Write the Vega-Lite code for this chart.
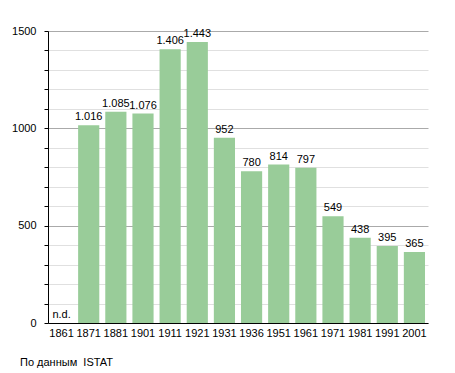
{
  "$schema": "https://vega.github.io/schema/vega-lite/v6.json",
  "width": 380,
  "height": 292,
  "autosize": "none",
  "padding": {"left": 48, "top": 31, "right": 27, "bottom": 50},
  "background": "white",
  "config": {"view": {"stroke": null}, "font": "Liberation Sans"},
  "title": {"text": "По данным \u00a0ISTAT", "orient": "bottom", "anchor": "start", "frame": "group", "dx": -28, "offset": 19, "fontSize": 11, "fontWeight": "normal", "color": "#000", "font": "Liberation Sans"},
  "data": {"values": [
    {"year": "1861", "value": 0, "label": "n.d."},
    {"year": "1871", "value": 1016, "label": "1.016"},
    {"year": "1881", "value": 1085, "label": "1.085"},
    {"year": "1901", "value": 1076, "label": "1.076"},
    {"year": "1911", "value": 1406, "label": "1.406"},
    {"year": "1921", "value": 1443, "label": "1.443"},
    {"year": "1931", "value": 952, "label": "952"},
    {"year": "1936", "value": 780, "label": "780"},
    {"year": "1951", "value": 814, "label": "814"},
    {"year": "1961", "value": 797, "label": "797"},
    {"year": "1971", "value": 549, "label": "549"},
    {"year": "1981", "value": 438, "label": "438"},
    {"year": "1991", "value": 395, "label": "395"},
    {"year": "2001", "value": 365, "label": "365"}
  ]},
  "encoding": {
    "x": {"field": "year", "type": "ordinal", "scale": {"paddingInner": 0.22, "paddingOuter": 0.11},
      "axis": {"title": null, "labelAngle": 0, "ticks": false, "labelPadding": 4, "labelFontSize": 11, "labelColor": "#000", "domainColor": "#000", "domainWidth": 1}},
    "y": {"field": "value", "type": "quantitative", "scale": {"domain": [0, 1500], "nice": false},
      "axis": {"title": null, "values": [0,100,200,300,400,500,600,700,800,900,1000,1100,1200,1300,1400,1500],
        "labelExpr": "datum.value % 500 === 0 ? datum.value : ''", "labelFontSize": 11, "labelColor": "#000", "labelPadding": 8,
        "tickColor": "#000", "tickSize": 4, "domainColor": "#000", "domainWidth": 1,
        "gridColor": {"condition": {"test": "datum.value % 500 === 0", "value": "#aaaaaa"}, "value": "#e0e0e0"}}}
  },
  "layer": [
    {"mark": {"type": "bar", "color": "#99cc99"}},
    {"mark": {"type": "text", "baseline": "bottom", "dy": -3, "fontSize": 11, "color": "#000"},
      "encoding": {"text": {"field": "label"}}}
  ]
}
